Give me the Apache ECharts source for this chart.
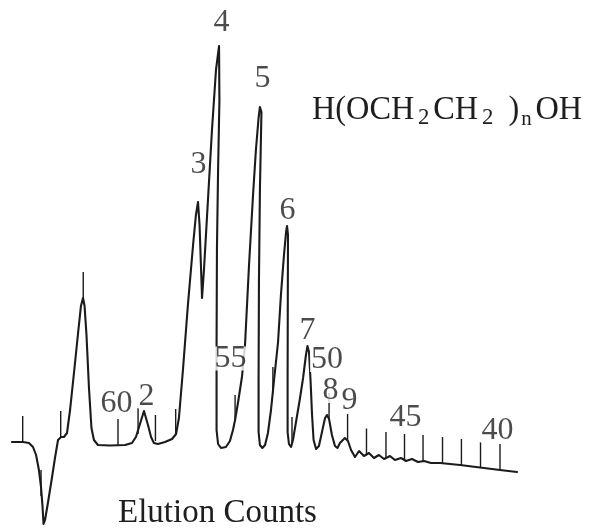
<!DOCTYPE html>
<html>
<head>
<meta charset="utf-8">
<script src="https://cdn.jsdelivr.net/npm/echarts/dist/echarts.min.js"></script>
<style>
  html, body { margin: 0; padding: 0; background: #fff; }
  #chart { width: 594px; height: 531px; }
</style>
</head>
<body>
<div id="chart"></div>
<script>
// GPC trace of polyethylene glycol oligomers H(OCH2CH2)nOH
// Elution count (axis runs from high counts on the left to low counts on the right)
const traceCount = [
  65.55, 64.97, 64.66, 64.45, 64.29, 64.14, 64.03, 63.95, 63.90, 63.82,
  63.67, 63.46, 63.30, 63.14, 62.98, 62.83, 62.67, 62.51, 62.30, 62.09,
  61.94, 61.83, 61.75, 61.65, 61.52, 61.39, 61.26, 61.05, 60.42, 59.63,
  59.27, 59.06, 58.85, 58.64, 58.43, 58.27, 58.12, 57.91, 57.54, 57.17,
  56.96, 56.81, 56.60, 56.34, 56.07, 55.92, 55.81, 55.73, 55.65, 55.60,
  55.50, 55.29, 55.08, 54.87, 54.71, 54.61, 54.69, 54.76, 54.82, 54.84,
  54.84, 54.76, 54.61, 54.35, 54.14, 53.98, 53.87, 53.72, 53.51, 53.35,
  53.14, 52.93, 52.78, 52.64, 52.57, 52.49, 52.57, 52.62, 52.64, 52.64,
  52.57, 52.44, 52.30, 52.15, 51.99, 51.83, 51.62, 51.47, 51.31, 51.20,
  51.15, 51.10, 51.11, 51.12, 51.12, 51.05, 50.94, 50.84, 50.68, 50.47,
  50.31, 50.16, 50.08, 50.00, 49.92, 49.84, 49.76, 49.63, 49.48, 49.32,
  49.16, 49.06, 48.95, 48.80, 48.64, 48.51, 48.38, 48.12, 47.96, 47.80,
  47.59, 47.38, 47.12, 46.86, 46.60, 46.34, 46.07, 45.76, 45.50, 45.18,
  44.92, 44.61, 44.29, 43.98, 43.61, 43.14, 42.09, 41.05, 40.00, 39.11
];
// Detector response (arbitrary units, baseline near 0)
const traceResponse = [
  1, 1, 0, -4, -12, -27, -44, -64, -81, -77,
  -60, -35, -15, 3, 6, 6, 10, 33, 71, 110,
  137, 145, 137, 108, 55, 15, 3, -2, -2.5, -2,
  0, 6, 19, 32, 18, 6, 0, -1, 1, 4,
  9, 25, 73, 138, 198, 228, 241, 218, 173, 145,
  173, 243, 313, 373, 397, 395, 343, 273, 193, 93,
  13, -1, -5, -4, 2, 13, 23, 40, 66, 98,
  178, 248, 293, 325, 336, 331, 253, 163, 63, 11,
  -2, -5, -2, 10, 33, 63, 101, 148, 188, 211,
  217, 208, 143, 63, 11, -1, -4, 3, 21, 45,
  65, 88, 97, 91, 63, 28, 3, -6, -3, 11,
  25, 28, 24, 8, -3, -5, 0, 5, 2, -7,
  -14, -8, -13, -10, -15, -12, -16, -13, -17, -15,
  -18, -16, -19, -18, -20, -20, -22, -24.5, -27, -29
];

// Count marks made by the recorder: where each mark sits and the response it starts from
const markCount = [
  64.99, 64.03, 63.00, 61.82, 60.00, 58.95, 58.04, 56.98, 53.87, 51.89,
  50.89, 48.95, 47.98, 46.99, 45.97, 45.00, 44.03, 43.01, 42.02, 41.02, 40.00
];
const markResponse = [
  1, -53, 6, 145, -2, 9, 2, 8, 22, 50,
  0, 24, 3, -11.5, -15, -17, -18, -20, -22, -25, -27
];
const MARK_HEIGHT = 26;

// Peak numbers (n) and count numbers written on the trace
const labelText = ['2', '3', '4', '5', '6', '7', '8', '9', '60', '55', '50', '45', '40'];
const labelCount = [58.51, 55.79, 54.58, 52.43, 51.13, 50.08, 48.87, 47.88, 60.08, 54.11, 49.06, 44.95, 40.13];
const labelResponse = [46.5, 278, 420, 364, 232, 112, 52, 42, 39.5, 84.5, 83, 25.5, 12];

const INK = '#1b1b1b';
const SERIF = '"Liberation Serif", "DejaVu Serif", serif';

const chart = echarts.init(document.getElementById('chart'), null, { renderer: 'canvas' });

chart.setOption({
  animation: false,
  backgroundColor: '#ffffff',
  grid: { left: 3.4, right: 17.6, top: 0, bottom: 0 },
  xAxis: { type: 'value', min: 36, max: 66, inverse: true, show: false },
  yAxis: { type: 'value', min: -88, max: 443, show: false },
  series: [
    {
      name: 'trace',
      type: 'line',
      data: traceCount.map((c, i) => [c, traceResponse[i]]),
      symbol: 'none',
      smooth: false,
      lineStyle: { color: INK, width: 2.1, join: 'round', cap: 'round' },
      z: 2
    },
    {
      name: 'count marks',
      type: 'custom',
      encode: { x: 0, y: 1 },
      data: markCount.map((c, i) => [c, markResponse[i]]),
      renderItem: (params, api) => {
        const base = api.coord([api.value(0), api.value(1)]);
        const tip = api.coord([api.value(0), api.value(1) + MARK_HEIGHT]);
        return {
          type: 'line',
          shape: { x1: base[0], y1: base[1], x2: tip[0], y2: tip[1] },
          style: { stroke: INK, lineWidth: 1.4 }
        };
      },
      z: 3
    },
    {
      name: 'labels',
      type: 'scatter',
      data: labelText.map((t, i) => ({ name: t, value: [labelCount[i], labelResponse[i]] })),
      symbolSize: 1,
      itemStyle: { color: 'rgba(0,0,0,0)' },
      label: {
        show: true,
        position: 'inside',
        formatter: '{b}',
        fontFamily: SERIF,
        fontSize: 32,
        lineHeight: 24,
        color: '#1e1e1e',
        backgroundColor: '#ffffff',
        padding: [0, 1]
      },
      z: 5
    }
  ],
  graphic: [
    {
      type: 'text',
      x: 312,
      y: 90,
      scaleX: 0.95,
      style: {
        text: '{m|H(OCH}{s|2}{m|CH}{s|2}{p|)}{n|n}{o|OH}',
        fill: '#1e1e1e',
        rich: {
          m: { fontFamily: SERIF, fontSize: 34, lineHeight: 40, fill: '#1e1e1e' },
          s: { fontFamily: SERIF, fontSize: 24, lineHeight: 37, verticalAlign: 'bottom', padding: [0, 4, 0, 4], fill: '#1e1e1e' },
          p: { fontFamily: SERIF, fontSize: 34, lineHeight: 40, padding: [0, 0, 0, 12], fill: '#1e1e1e' },
          n: { fontFamily: SERIF, fontSize: 22, lineHeight: 34, verticalAlign: 'bottom', padding: [0, 2, 0, 2], fill: '#1e1e1e' },
          o: { fontFamily: SERIF, fontSize: 34, lineHeight: 40, padding: [0, 0, 0, 2], fill: '#1e1e1e' }
        }
      },
      z: 10
    },
    {
      type: 'text',
      x: 118,
      y: 497,
      style: {
        text: 'Elution Counts',
        font: '33px ' + SERIF,
        fill: '#1e1e1e'
      },
      z: 10
    }
  ]
});
</script>
</body>
</html>
